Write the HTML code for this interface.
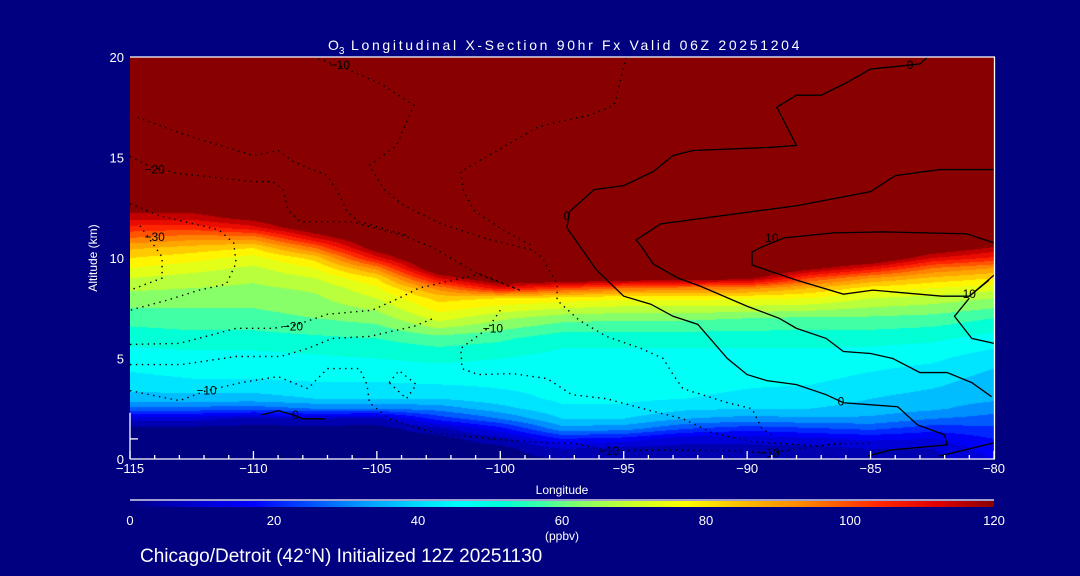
<!DOCTYPE html>
<html><head><meta charset="utf-8">
<style>
html,body{margin:0;padding:0;background:#000080;}
#wrap{position:relative;width:1080px;height:576px;overflow:hidden;background:#000080;font-family:"Liberation Sans",sans-serif;color:#fff;}
canvas,svg{position:absolute;left:0;top:0;}
</style></head>
<body>
<div id="wrap">
<canvas id="field" width="864" height="402" style="left:130px;top:57px"></canvas>
<canvas id="cbar" width="864" height="6" style="left:130px;top:501px"></canvas>
<svg id="ov" width="1080" height="576"></svg>
</div>
<script>
// ---- data ----
const lons = [-115,-112.5,-110,-107.5,-105,-102.5,-100,-97.5,-95,-92.5,-90,-87.5,-85,-82.5,-80];
const alts = [0,0.5,1,1.5,2,2.5,3,4,5,6,7,8,8.5,9,9.5,10,10.5,11,11.5,12,13,20];
const col0  = [3,3,3,3,12,28,38,44,47,52,57,63,66,70,75,80,86,95,103,112,125,130];
const col1  = [3,3,3,3,12,28,38,45,48,53,58,62,65,68,72,77,83,92,102,112,125,130];
const col2  = [3,3,3,3,8,27,38,45,48,53,58,62,64,66,69,73,80,92,108,118,125,130];
const col3  = [3,3,3,3,10,30,40,46,49,54,60,64,66,70,75,82,95,110,122,128,130,130];
const col4  = [3,3,3,3,8,30,40,46,50,55,62,70,74,80,92,108,120,125,130,130,130,130];
const col5  = [3,3,3,8,22,32,40,47,51,58,72,82,92,110,125,130,130,130,130,130,130,130];
const col6  = [3,3,8,18,30,38,43,47,50,56,66,80,108,125,130,130,130,130,130,130,130,130];
const col7  = [5,10,20,33,40,44,46,47,48,52,62,78,100,125,130,130,130,130,130,130,130,130];
const col8  = [5,8,18,32,40,44,46,47,48,52,61,76,95,122,130,130,130,130,130,130,130,130];
const col9  = [6,8,12,25,35,41,45,47,48,52,61,76,93,120,130,130,130,130,130,130,130,130];
const col10 = [8,8,12,22,33,40,44,46,48,52,60,76,92,118,130,130,130,130,130,130,130,130];
const col11 = [8,8,14,24,34,40,43,46,48,52,59,75,85,100,118,128,130,130,130,130,130,130];
const col12 = [8,10,16,26,34,38,40,44,47,52,59,70,78,90,108,125,130,130,130,130,130,130];
const col13 = [8,10,15,22,30,36,38,42,46,51,58,68,75,84,95,110,122,130,130,130,130,130];
const col14 = [15,18,20,24,28,32,36,38,42,48,55,65,72,80,90,104,114,125,130,130,130,130];
const columns = [col0,col1,col2,col3,col4,col5,col6,col7,col8,col9,col10,col11,col12,col13,col14];

const xTicks = [-115,-110,-105,-100,-95,-90,-85,-80];
const xTickLabels = ["\u2212115","\u2212110","\u2212105","\u2212100","\u221295","\u221290","\u221285","\u221280"];
const yTicks = [0,5,10,15,20];
const cbTicks = [0,20,40,60,80,100,120];

// contour lines [lon, alt]
const solid0a = [[-82.7,20],[-83,19.65],[-85,19.4],[-86,18.7],[-87,18.1],[-88,18.1],[-88.8,17.5],[-88,15.6],[-89.1,15.5],[-92.2,15.35],[-93,15.1],[-93.8,14.3],[-95,13.6],[-96.2,13.4],[-97.2,12.3],[-97.3,11.5],[-96.1,9.4],[-95,8.1],[-93.9,7.7],[-93,7.1],[-92,6.7],[-90.8,5.0],[-90,4.2],[-89.2,3.9],[-88,3.7],[-86.8,3.2],[-86.1,2.8],[-83.9,2.6],[-83.1,1.7],[-82,1.2],[-81.9,0.7],[-84.2,0.45],[-85.1,0.15]];
const solid0b = [[-82.2,0.15],[-80,0.8]];
const solid10a = [[-80,14.4],[-82.2,14.4],[-84,14.1],[-85,13.3],[-88,12.6],[-93.5,11.7],[-94.5,10.9],[-94.3,10.6],[-93.8,9.7],[-92.8,9.0],[-91.9,8.6],[-90,7.6],[-88.7,7.0],[-88,6.5],[-86.8,6.0],[-86.1,5.35],[-85,5.25],[-84.1,5.0],[-83,4.3],[-81.9,4.3],[-80.9,3.8],[-80.1,3.1]];
const solid10b = [[-80,10.75],[-81.1,11.2],[-84.5,11.3],[-86.5,11.25],[-88.5,11.0],[-89.4,10.55],[-89.8,10.3],[-89.8,9.65],[-88,8.9],[-86.1,8.2],[-84.9,8.4],[-82.1,8.1],[-81,8.1],[-80.2,8.9]];
const solid10c = [[-81,8.0],[-81.6,7.1],[-80.9,6.0],[-80,5.75]];
const solid10d = [[-80,9.15],[-81,8.1]];
const solid0c = [[-109.65,2.2],[-109,2.4],[-108.4,2.2],[-108,2.0],[-107.1,2.0]];
const dot1 = [[-107.6,20],[-106.6,19.6],[-104.9,18.7],[-103.5,17.6],[-104.2,15.6],[-105.3,14.6],[-104.7,13.4],[-103.9,12.6],[-102.4,11.7],[-100.4,10.9],[-98.7,10.4],[-98.3,10.0],[-97.7,8.7],[-97.7,7.9],[-96.8,6.9],[-95.7,6.1],[-94.3,5.5],[-93.4,5.0],[-93,4.2],[-92.6,3.5],[-90.8,2.8],[-89.8,2.5],[-89.4,1.5],[-89,1.2]];
const dot2 = [[-94.9,20],[-95.3,18],[-95.4,17.6],[-96.4,17.1],[-97.9,16.7],[-98.5,16.5],[-101.6,14.3],[-101.5,13.4],[-101.1,12.4],[-99.9,11.4],[-98.7,10.6]];
const dot3 = [[-115,15.05],[-114.1,14.5],[-113,14.2],[-110,13.8],[-109.2,13.8],[-108.8,13.4],[-108.6,12.4],[-108.1,11.8],[-106,11.8],[-103.9,11.1],[-102.7,10.5],[-100.9,9.2],[-99.2,8.4]];
const dot4 = [[-114.7,17],[-112.7,16.1],[-110,15.1],[-109,15.35],[-108.4,14.8],[-107,14.1],[-106.5,13.1],[-106.2,12.3],[-105.7,11.8],[-103.7,11.1]];
const dot5 = [[-115,12.7],[-113.8,12.1],[-111.4,11.4],[-110.8,10.75],[-110.7,9.75],[-111.1,8.7],[-112.2,8.4],[-113.5,7.9],[-115,7.4]];
const dot6 = [[-114.6,11.6],[-114.3,11.1],[-113.7,10.05],[-113.7,9.0],[-115,8.4]];
const dot7 = [[-115,5.7],[-113,5.75],[-110.7,6.5],[-109.2,6.5],[-108.2,6.7],[-107,7.2],[-105.2,7.4],[-104.1,8.0],[-103.3,8.5],[-101.9,8.9],[-100.8,9.2],[-99.2,8.4]];
const dot8 = [[-115,4.7],[-112.9,4.7],[-110.7,5.1],[-108.9,5.1],[-107.8,5.5],[-106.8,6.0],[-105.3,6.1],[-103.5,6.6],[-102.7,7.0]];
const dot9 = [[-100,7.4],[-100.5,6.5],[-101.6,5.5],[-101.55,4.5],[-100.9,4.2],[-99.5,4.25],[-98.1,4.0],[-97.1,3.2],[-95.7,3.0],[-93.9,2.4],[-92.6,2.0],[-91.4,1.3],[-89.8,0.86],[-87.2,0.66],[-84.9,0.8]];
const dot10 = [[-115,3.4],[-113,2.9],[-111.9,3.4],[-110.5,3.8],[-109,4.1],[-107.8,3.5],[-107,4.5],[-105.7,4.5],[-105.4,3.7],[-105.3,2.8],[-104.5,2.0],[-102.7,1.3],[-100,0.96],[-98.1,0.8],[-97.1,0.8],[-95.6,0.4],[-93.7,0.45],[-90.3,0.4],[-89.1,0.3],[-86.2,0.8]];
const dot11 = [[-104.5,3.8],[-104.1,4.4],[-103.4,3.7],[-103.8,3.0],[-104.5,3.8]];
const solidLines = [solid0a,solid0b,solid10a,solid10b,solid10c,solid10d,solid0c];
const dottedLines = [dot1,dot2,dot3,dot4,dot5,dot6,dot7,dot8,dot9,dot10,dot11];
const labelText = ["0","0","0","10","10","0","\u221210","\u221220","\u221230","\u221220","\u221210","\u221210","\u221210","\u221210"];
const labelLon  = [-83.4,-97.3,-86.2,-89.0,-81.0,-108.3,-106.5,-114.0,-114.0,-108.4,-100.3,-111.9,-95.6,-89.1];
const labelAlt  = [19.6,12.1,2.85,11.0,8.2,2.2,19.6,14.4,11.05,6.6,6.5,3.4,0.4,0.3];

// ---- axes ----
const X0=130,X1=994,Y0=459,Y1=57;
const xs = lon => X0 + (lon+115)/35*(X1-X0);
const ys = alt => Y0 - alt/20*(Y0-Y1);
const cbx = v => 130 + v/120*864;

const stops = [[0,[0,0,130]],[8,[0,0,200]],[17,[0,0,255]],[25,[0,80,255]],[33,[0,160,255]],[41,[0,225,255]],[46,[0,255,252]],[52,[0,255,215]],[57,[60,255,170]],[63,[140,255,100]],[70,[205,255,40]],[77,[255,255,0]],[85,[255,190,0]],[94,[255,130,0]],[104,[255,40,0]],[112,[225,0,0]],[120,[136,0,0]]];
function cmap(v){
  if(v<=stops[0][0]) return stops[0][1];
  for(let i=1;i<stops.length;i++){
    if(v<=stops[i][0]){const a=stops[i-1],b=stops[i];const t=(v-a[0])/(b[0]-a[0]);
      return [0,1,2].map(k=>Math.round(a[1][k]+(b[1][k]-a[1][k])*t));}
  }
  return stops[stops.length-1][1];
}
function valueAt(lon,alt){
  let fi=(lon-lons[0])/(lons[1]-lons[0]); fi=Math.max(0,Math.min(lons.length-1.0001,fi));
  const i=Math.floor(fi), tx=fi-i;
  let j=0; while(j<alts.length-2 && alt>alts[j+1]) j++;
  let ty=(alt-alts[j])/(alts[j+1]-alts[j]); ty=Math.max(0,Math.min(1,ty));
  const a=columns[i][j],b=columns[i+1][j],c=columns[i][j+1],d=columns[i+1][j+1];
  return (a*(1-tx)+b*tx)*(1-ty)+(c*(1-tx)+d*tx)*ty;
}
// field
(function(){
  const cv=document.getElementById('field'),ctx=cv.getContext('2d');
  const W=cv.width,H=cv.height,img=ctx.createImageData(W,H);
  for(let py=0;py<H;py++){
    const alt=(Y0-(Y1+py+0.5))/(Y0-Y1)*20;
    for(let px=0;px<W;px++){
      const lon=-115+(px+0.5)/W*35;
      const v=valueAt(lon,alt);
      const lvl=Math.min(23,Math.floor(v/5));
      const c=cmap(Math.min(120,lvl*5*120/115));
      const k=(py*W+px)*4; img.data[k]=c[0];img.data[k+1]=c[1];img.data[k+2]=c[2];img.data[k+3]=255;
    }
  }
  ctx.putImageData(img,0,0);
  const cb=document.getElementById('cbar'),cx=cb.getContext('2d');
  for(let px=0;px<864;px++){const c=cmap((px+0.5)/864*120);cx.fillStyle=`rgb(${c[0]},${c[1]},${c[2]})`;cx.fillRect(px,0,1,6);}
})();

const NS='http://www.w3.org/2000/svg';
const ov=document.getElementById('ov');
function mk(tag,attrs,parent){const e=document.createElementNS(NS,tag);for(const k in attrs)e.setAttribute(k,attrs[k]);(parent||ov).appendChild(e);return e;}
function txt(s,x,y,size,anchor,name,extra){const t=mk('text',Object.assign({x:x,y:y,'font-size':size,'text-anchor':anchor||'middle',fill:'#fff','font-family':'Liberation Sans, sans-serif'},extra||{}));t.textContent=s;


return t;}

// contours
const gC=mk('g',{});


solidLines.forEach(l=>{const p=mk('polyline',{points:l.map(q=>xs(q[0])+','+ys(q[1])).join(' '),fill:'none',stroke:'#000','stroke-width':1.3},gC);

});
dottedLines.forEach(l=>{const p=mk('polyline',{points:l.map(q=>xs(q[0])+','+ys(q[1])).join(' '),fill:'none',stroke:'#000','stroke-width':1.4,'stroke-dasharray':'1.4 4.5'},gC);

});
labelText.forEach((s,i)=>{const t=txt(s,xs(labelLon[i]),ys(labelAlt[i])+4,12,'middle','contour-label',{fill:'#000'});});

// frame and ticks
const gA=mk('g',{stroke:'#fff','stroke-width':1.3,fill:'none'});


mk('line',{x1:X0,y1:Y1,x2:X1+1,y2:Y1},gA);
mk('line',{x1:X1+0.5,y1:Y1,x2:X1+0.5,y2:Y0},gA);
mk('line',{x1:X0,y1:Y0,x2:X1+1,y2:Y0},gA);
mk('line',{x1:X0,y1:ys(2.3),x2:X0,y2:Y0},gA);
for(let l=-115;l<=-80;l++){const major=(l%5===0);mk('line',{x1:xs(l),y1:Y0,x2:xs(l),y2:Y0-(major?8:4)},gA);}
mk('line',{x1:X0,y1:ys(1),x2:X0+8,y2:ys(1)},gA);
xTicks.forEach((v,i)=>txt(xTickLabels[i],xs(v),473,13,'middle','x-tick-label'));
yTicks.forEach(v=>txt(String(v),124,ys(v)+5,13,'end','y-tick-label'));
txt('Longitude',562,494,12,'middle','x-axis-title');
txt('Altitude (km)',97,258,12,'middle','y-axis-title',{transform:'rotate(-90 97 258)'});
const title=txt('',328,50,14,'start','chart-title');
title.innerHTML='O<tspan font-size="10" dy="4">3</tspan><tspan dy="-4" textLength="455" lengthAdjust="spacing"> Longitudinal X-Section 90hr  Fx Valid 06Z 20251204</tspan>';
title.setAttribute('xml:space','preserve');
// colorbar
mk('line',{x1:130,y1:500,x2:994,y2:500,stroke:'#fff','stroke-width':1.3});
cbTicks.forEach(v=>txt(String(v),cbx(v),525,13,'middle','colorbar-tick-label'));
txt('(ppbv)',562,540,12,'middle','colorbar-units');
txt('Chicago/Detroit (42\u00B0N) Initialized 12Z 20251130',140,562,19,'start','subtitle');
</script>
</body></html>
